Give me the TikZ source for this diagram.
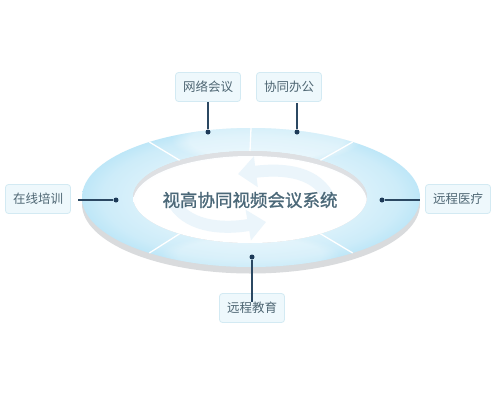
\documentclass[tikz,border=0pt]{standalone}
\usepackage{fontspec}
\newfontfamily\cjk{Noto Sans CJK SC}
\newfontfamily\cjkb[FakeBold=1.2]{Noto Sans CJK SC}
\usetikzlibrary{arrows.meta,fadings}
\definecolor{ringOut}{HTML}{A5DBF3}
\definecolor{ringMid}{HTML}{B9E5F7}
\definecolor{ringIn}{HTML}{CDECF9}
\definecolor{ringGrey}{HTML}{D9DBDD}
\definecolor{wallGrey}{HTML}{DEE0E3}
\definecolor{holeEdge}{HTML}{E6F4FB}
\definecolor{swirl}{HTML}{EBF5FB}
\definecolor{titleC}{HTML}{4B6878}
\definecolor{labC}{HTML}{4E6673}
\definecolor{boxFill}{HTML}{EEF8FC}
\definecolor{boxLine}{HTML}{D3EAF3}
\definecolor{lineC}{HTML}{2B4862}
\definecolor{dotC}{HTML}{1D3A58}
\pgfdeclareradialshading{ringshade}{\pgfpoint{0bp}{0bp}}{color(0bp)=(white); color(22bp)=(ringIn); color(26bp)=(ringMid); color(35bp)=(ringOut); color(50bp)=(ringOut)}
\pgfdeclareradialshading{holeshade}{\pgfpoint{0bp}{0bp}}{color(0bp)=(white); color(24bp)=(white); color(36bp)=(holeEdge); color(50bp)=(holeEdge)}
\tikzset{
  labbox/.style={draw=boxLine, fill=boxFill, rounded corners=3pt, line width=0.8pt,
    minimum height=29pt, inner xsep=7.5pt, inner ysep=0pt, text=labC,
    font=\cjk\fontsize{12.5}{14}\selectfont},
  dotnode/.style={circle, fill=dotC, inner sep=0pt, minimum size=5pt},
  conn/.style={draw=lineC, line width=1.2pt},
  divider/.style={draw=white, line width=1.3pt},
}
\begin{document}
\begin{tikzpicture}[x=1pt,y=-1pt]
\fill[white] (0,0) rectangle (500,400);
% extrusion
\fill[ringGrey] (251,204) ellipse [x radius=169, y radius=69.5];
% ring top surface
\shade[shading=ringshade, even odd rule]
  (251,197.5) ellipse [x radius=169, y radius=69.5]
  (250,197) ellipse [x radius=117, y radius=46];
% soft highlight on upper and lower middle of the ring
\begin{scope}[even odd rule]
  \clip (251,197.5) ellipse [x radius=169, y radius=69.5]
    (250,197) ellipse [x radius=117, y radius=46];
  \fill[white, opacity=0.4, path fading=circle with fuzzy edge 20 percent] (266,140) ellipse [x radius=95, y radius=24];
  \fill[white, opacity=0.25, path fading=circle with fuzzy edge 20 percent] (250,254) ellipse [x radius=90, y radius=20];
\end{scope}
% hole: inner wall and floor
\fill[wallGrey] (250,197) ellipse [x radius=117, y radius=46];
\begin{scope}
  \clip (250,197) ellipse [x radius=117, y radius=46];
  \shade[shading=holeshade] (250,202) ellipse [x radius=117, y radius=46];
  % faint swirl arrows
  \draw[swirl, line width=12pt, -{Triangle[length=18pt,width=30pt]}]
    (330,200) .. controls (318,172) and (285,168) .. (238,174);
  \draw[swirl, line width=12pt, -{Triangle[length=18pt,width=30pt]}]
    (172,200) .. controls (185,226) and (220,230) .. (266,222);
\end{scope}
% dividers
\foreach \a in {90,127,53,233,307}{
  \draw[divider] ({251+169*cos(\a)},{197.5-69.5*sin(\a)}) -- ({250+117*cos(\a)},{197-46*sin(\a)});
}
% title
\node (title) at (250,200) {\cjkb\fontsize{17.5}{20}\selectfont\color{titleC}视高协同视频会议系统};
% dots
\node[dotnode] (d1) at (208,132) {};
\node[dotnode] (d2) at (297,132) {};
\node[dotnode] (d3) at (116,200) {};
\node[dotnode] (d4) at (382,200) {};
\node[dotnode] (d5) at (252,257) {};
% labels
\node[labbox] (l1) at (208,87) {网络会议};
\node[labbox] (l2) at (289,87) {协同办公};
\node[labbox] (l3) at (38,199) {在线培训};
\node[labbox] (l4) at (458,199) {远程医疗};
\node[labbox] (l5) at (252,308) {远程教育};
% connectors
\draw[conn] (d1) -- (d1 |- l1.south);
\draw[conn] (d2) -- ([yshift=-1pt]d2 |- l2.south);
\draw[conn] (d3) -- ([xshift=7pt]l3.east |- d3);
\draw[conn] (d4) -- ([xshift=-5pt]l4.west |- d4);
\draw[conn] (d5) -- ([yshift=-9pt]d5 |- l5.north);
\end{tikzpicture}
\end{document}
